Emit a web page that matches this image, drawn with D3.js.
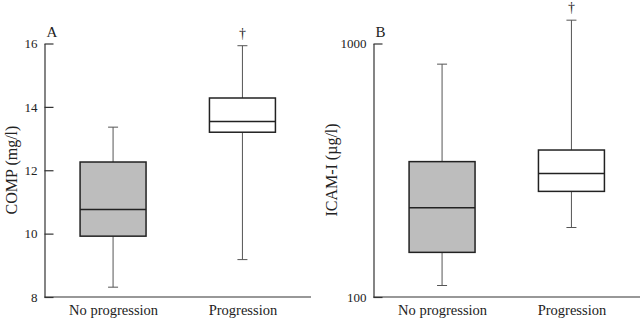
<!DOCTYPE html>
<html>
<head>
<meta charset="utf-8">
<script src="https://cdn.jsdelivr.net/npm/d3@7"></script>
<style>
  body { margin: 0; background: #fff; }
  svg { display: block; font-family: "Liberation Serif", "Times New Roman", serif; }
  .axis path, .axis line { stroke: #333; stroke-width: 1.2; }
  .axis text { fill: #222; font-size: 13px; font-family: "Liberation Serif", serif; }
  .cat-axis text { font-size: 14.5px; }
</style>
</head>
<body>
<div id="chart"></div>
<script>
const groups = ["No progression", "Progression"];
// min, q1, median, q3, max
const compStats = [[8.31, 9.92, 10.76, 12.26, 13.36], [9.18, 13.2, 13.54, 14.28, 15.93]];
const icamStats = [[111, 150, 225, 342, 829], [188, 261, 307, 380, 1236]];
const compTicks = [8, 10, 12, 14, 16];
const icamTicks = [100, 1000];
const boxFills = ["#bdbdbd", "#ffffff"];
const significant = [false, true];

const width = 640;
const height = 320;
const plotTop = 43.5;
const plotBottom = 297;

const svg = d3.select("#chart")
  .append("svg")
  .attr("width", width)
  .attr("height", height);

function drawPanel(opts) {
  const g = svg.append("g");

  const xScale = d3.scalePoint()
    .domain(groups)
    .range([opts.x0, opts.x1])
    .padding(0.53);

  const yScale = opts.yScale.range([plotBottom, plotTop]);
  const boxW = xScale.step() * 0.51;

  // x axis (categories)
  g.append("g")
    .attr("class", "axis cat-axis")
    .attr("transform", `translate(0,${plotBottom})`)
    .call(d3.axisBottom(xScale).tickSize(0).tickPadding(8))
    .call(a => a.select(".domain").attr("d", `M${opts.x0},0H${opts.x1}`));

  // y axis with inward ticks
  g.append("g")
    .attr("class", "axis")
    .attr("transform", `translate(${opts.x0},0)`)
    .call(d3.axisLeft(yScale)
      .tickValues(opts.ticks)
      .tickFormat(d3.format("d"))
      .tickSize(-9)
      .tickSizeOuter(0)
      .tickPadding(7));

  g.append("text")
    .attr("x", opts.x0 + 2)
    .attr("y", plotTop - 7)
    .attr("font-size", 15)
    .attr("fill", "#222")
    .text(opts.letter);

  g.append("text")
    .attr("transform", `translate(${opts.labelX},${opts.labelY}) rotate(-90)`)
    .attr("text-anchor", "middle")
    .attr("font-size", 16)
    .attr("fill", "#222")
    .text(opts.title);

  const boxes = g.selectAll(".box")
    .data(opts.stats.map((s, i) => ({ name: groups[i], s, i })))
    .join("g")
    .attr("class", "box");

  // whiskers
  boxes.append("line")
    .attr("x1", d => xScale(d.name))
    .attr("x2", d => xScale(d.name))
    .attr("y1", d => yScale(d.s[0]))
    .attr("y2", d => yScale(d.s[4]))
    .attr("stroke", "#555")
    .attr("stroke-width", 1);

  boxes.selectAll(".cap")
    .data(d => [d.s[0], d.s[4]].map(v => ({ x: xScale(d.name), v })))
    .join("line")
    .attr("class", "cap")
    .attr("x1", d => d.x - 5)
    .attr("x2", d => d.x + 5)
    .attr("y1", d => yScale(d.v))
    .attr("y2", d => yScale(d.v))
    .attr("stroke", "#555")
    .attr("stroke-width", 1);

  boxes.append("rect")
    .attr("x", d => xScale(d.name) - boxW / 2)
    .attr("width", boxW)
    .attr("y", d => yScale(d.s[3]))
    .attr("height", d => yScale(d.s[1]) - yScale(d.s[3]))
    .attr("fill", d => boxFills[d.i])
    .attr("stroke", "#222")
    .attr("stroke-width", 1.5);

  boxes.append("line")
    .attr("x1", d => xScale(d.name) - boxW / 2)
    .attr("x2", d => xScale(d.name) + boxW / 2)
    .attr("y1", d => yScale(d.s[2]))
    .attr("y2", d => yScale(d.s[2]))
    .attr("stroke", "#222")
    .attr("stroke-width", 1.5);

  boxes.filter(d => significant[d.i])
    .append("text")
    .attr("x", d => xScale(d.name))
    .attr("y", d => yScale(d.s[4]) - 8)
    .attr("text-anchor", "middle")
    .attr("font-size", 14)
    .attr("fill", "#222")
    .text("†");
}

drawPanel({
  x0: 44.5, x1: 311,
  yScale: d3.scaleLinear().domain([8, 16]),
  ticks: compTicks,
  stats: compStats,
  letter: "A",
  title: "COMP (mg/l)",
  labelX: 17, labelY: 170
});

drawPanel({
  x0: 373.5, x1: 640,
  yScale: d3.scaleLog().domain([100, 1000]),
  ticks: icamTicks,
  stats: icamStats,
  letter: "B",
  title: "ICAM-I (µg/l)",
  labelX: 337, labelY: 170
});
</script>
</body>
</html>
